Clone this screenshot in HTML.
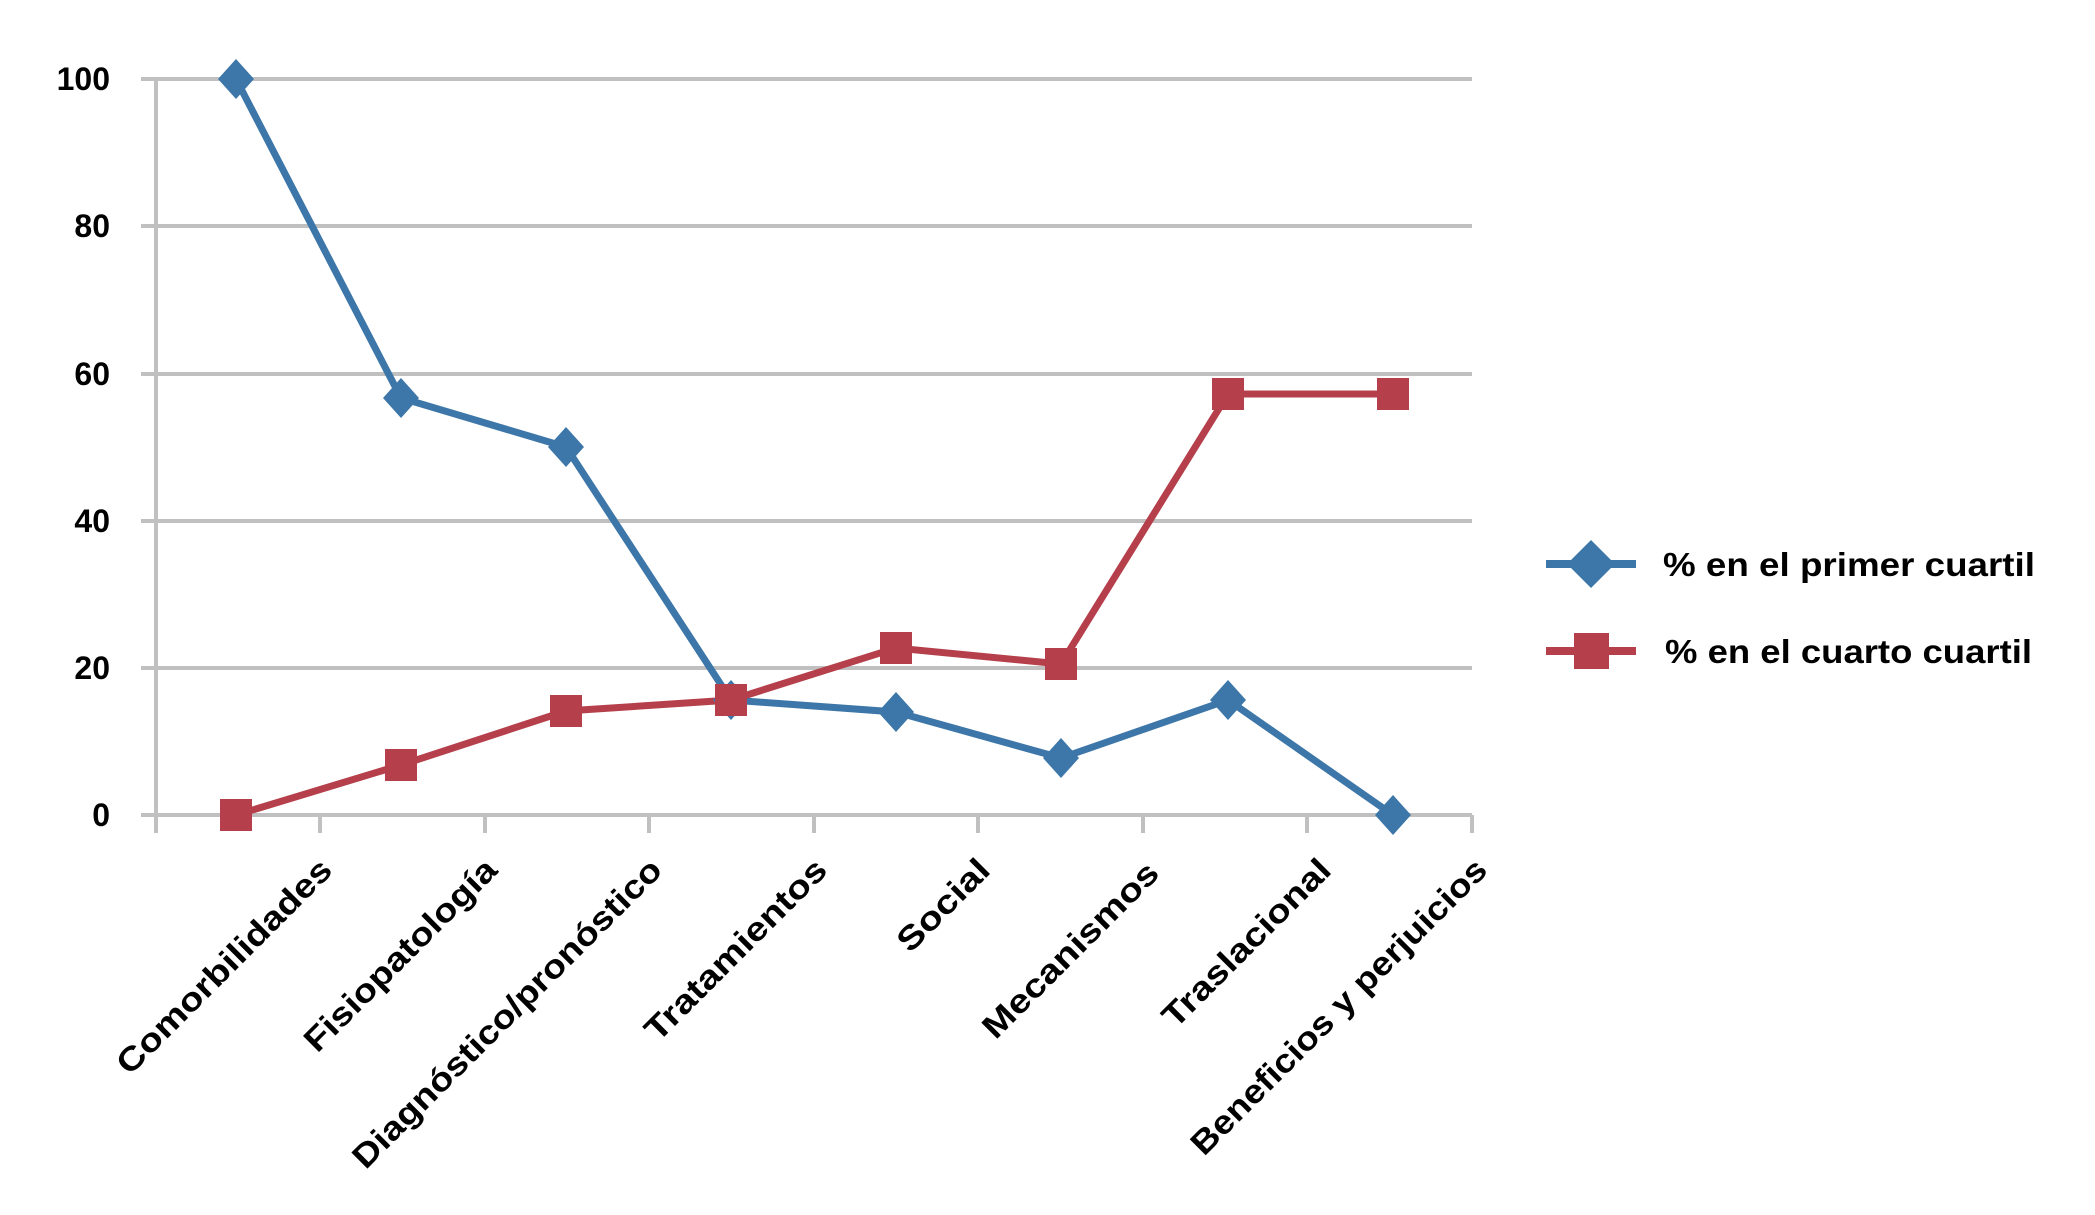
<!DOCTYPE html>
<html><head><meta charset="utf-8"><style>body{margin:0;background:#fff}svg{display:block}</style></head>
<body>
<svg width="2095" height="1215" viewBox="0 0 2095 1215" xmlns="http://www.w3.org/2000/svg" font-family="'Liberation Sans', sans-serif" font-weight="bold">
<g stroke="#c0c0c0" stroke-width="4">
<line x1="141" y1="79" x2="1472" y2="79"/>
<line x1="141" y1="226" x2="1472" y2="226"/>
<line x1="141" y1="374" x2="1472" y2="374"/>
<line x1="141" y1="521" x2="1472" y2="521"/>
<line x1="141" y1="668" x2="1472" y2="668"/>
<line x1="141" y1="815" x2="1472" y2="815"/>
<line x1="156" y1="79" x2="156" y2="833"/>
<line x1="320" y1="815" x2="320" y2="833"/>
<line x1="485" y1="815" x2="485" y2="833"/>
<line x1="649" y1="815" x2="649" y2="833"/>
<line x1="814" y1="815" x2="814" y2="833"/>
<line x1="978" y1="815" x2="978" y2="833"/>
<line x1="1143" y1="815" x2="1143" y2="833"/>
<line x1="1307" y1="815" x2="1307" y2="833"/>
<line x1="1472" y1="815" x2="1472" y2="833"/>
</g>
<g font-size="32" text-anchor="end" fill="#000">
<text x="110" y="90">100</text>
<text x="110" y="237">80</text>
<text x="110" y="385">60</text>
<text x="110" y="532">40</text>
<text x="110" y="679">20</text>
<text x="110" y="826">0</text>
</g>
<g font-size="33" text-anchor="end" fill="#000">
<text transform="translate(334,872) rotate(-45)" textLength="289" lengthAdjust="spacingAndGlyphs">Comorbilidades</text>
<text transform="translate(499,872) rotate(-45)" textLength="257" lengthAdjust="spacingAndGlyphs">Fisiopatología</text>
<text transform="translate(664,872) rotate(-45)" textLength="422" lengthAdjust="spacingAndGlyphs">Diagnóstico/pronóstico</text>
<text transform="translate(829,872) rotate(-45)" textLength="242" lengthAdjust="spacingAndGlyphs">Tratamientos</text>
<text transform="translate(992,872) rotate(-45)" textLength="116" lengthAdjust="spacingAndGlyphs">Social</text>
<text transform="translate(1161,875) rotate(-45)" textLength="234" lengthAdjust="spacingAndGlyphs">Mecanismos</text>
<text transform="translate(1333,872) rotate(-45)" textLength="223" lengthAdjust="spacingAndGlyphs">Traslacional</text>
<text transform="translate(1489,872) rotate(-45)" textLength="403" lengthAdjust="spacingAndGlyphs">Beneficios y perjuicios</text>
</g>
<polyline fill="none" stroke="#3d76a8" stroke-width="7" points="236,79 401,398 566,447 731,700 896,712 1061,758 1228,700 1393,815"/>
<polyline fill="none" stroke="#b5404b" stroke-width="7" points="236,815 401,765 566,711 731,700 896,648 1061,664 1228,394 1393,394"/>
<g fill="#3d76a8">
<path d="M236,59 l18,20 l-18,20 l-18,-20z"/>
<path d="M401,378 l18,20 l-18,20 l-18,-20z"/>
<path d="M566,427 l18,20 l-18,20 l-18,-20z"/>
<path d="M731,680 l18,20 l-18,20 l-18,-20z"/>
<path d="M896,692 l18,20 l-18,20 l-18,-20z"/>
<path d="M1061,738 l18,20 l-18,20 l-18,-20z"/>
<path d="M1228,680 l18,20 l-18,20 l-18,-20z"/>
<path d="M1393,795 l18,20 l-18,20 l-18,-20z"/>
</g>
<g fill="#b5404b">
<rect x="220" y="799" width="32" height="32"/>
<rect x="385" y="749" width="32" height="32"/>
<rect x="550" y="695" width="32" height="32"/>
<rect x="715" y="684" width="32" height="32"/>
<rect x="880" y="632" width="32" height="32"/>
<rect x="1045" y="648" width="32" height="32"/>
<rect x="1212" y="378" width="32" height="32"/>
<rect x="1377" y="378" width="32" height="32"/>
</g>
<line x1="1546" y1="564" x2="1636" y2="564" stroke="#3d76a8" stroke-width="8"/>
<path d="M1591,540 l24,24 l-24,24 l-24,-24z" fill="#3d76a8"/>
<line x1="1546" y1="651" x2="1636" y2="651" stroke="#b5404b" stroke-width="8"/>
<rect x="1574" y="633" width="35" height="36" fill="#b5404b"/>
<g font-size="33" fill="#000">
<text x="1663" y="576" textLength="372" lengthAdjust="spacingAndGlyphs">% en el primer cuartil</text>
<text x="1665" y="663" textLength="367" lengthAdjust="spacingAndGlyphs">% en el cuarto cuartil</text>
</g>
</svg>
</body></html>
